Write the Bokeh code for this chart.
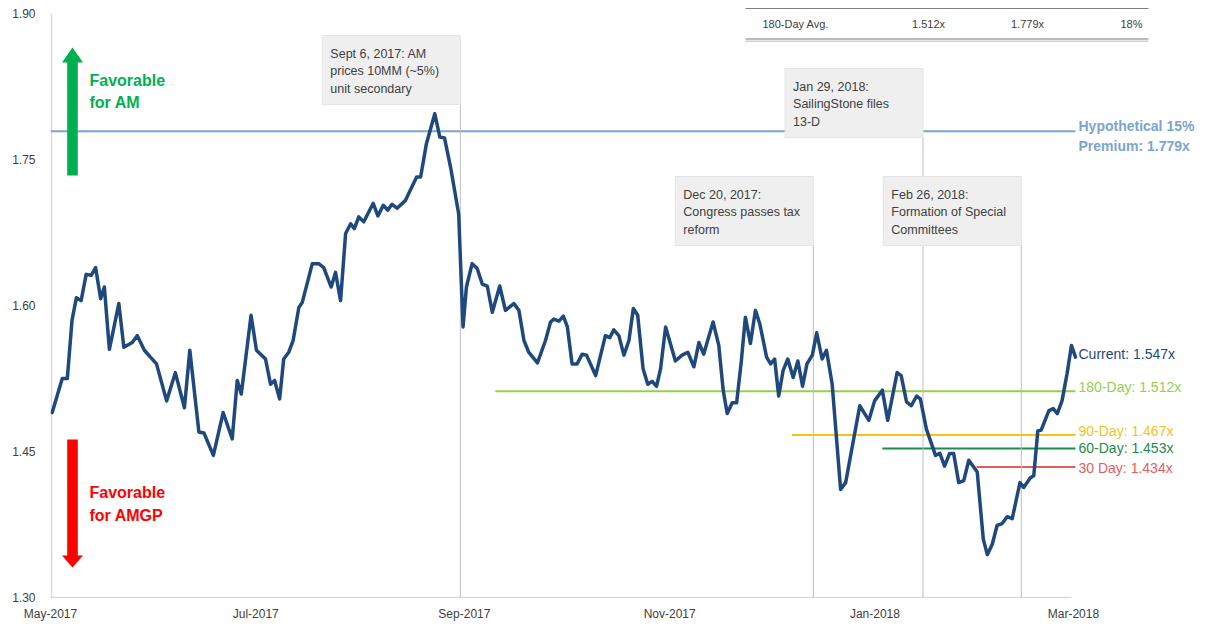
from bokeh.plotting import figure
from bokeh.models import FixedTicker, NumeralTickFormatter, Range1d
from bokeh.core.properties import value
from bokeh.embed import file_html
from bokeh.resources import INLINE

# ---------------- data ----------------
# x: days since 2017-05-01, y: AM / AMGP exchange ratio
day = [0.5, 3.5, 5.0, 6.4, 7.7, 9.1, 10.6, 12.1, 13.4, 14.9, 16.0, 17.5, 20.3, 21.8, 24.3, 25.8, 27.9, 29.7, 31.5, 34.5,
       37.1, 39.8, 41.4, 44.1, 45.6, 48.4, 51.3, 54.0, 55.5, 56.7, 59.6, 61.2, 63.9, 65.4, 66.6, 68.1, 69.3, 70.8, 72.1, 73.8,
       74.8, 77.8, 79.7, 81.2, 83.4, 84.7, 86.2, 87.7, 89.2, 90.3, 91.6, 93.1, 95.9, 97.3, 98.9, 100.2, 101.5, 103.0, 105.5, 108.8,
       110.0, 111.7, 114.2, 115.7, 117.1, 118.9, 121.3, 122.6, 123.6, 125.3, 126.8, 128.3, 129.8, 131.3, 133.5, 135.2, 137.7, 139.2, 140.7, 142.1,
       144.7, 147.1, 148.6, 149.6, 151.1, 152.4, 153.6, 155.0, 156.5, 158.0, 159.3, 162.0, 164.9, 166.2, 167.4, 168.9, 170.4, 171.9, 173.2, 174.5,
       176.1, 177.5, 178.8, 180.1, 181.3, 182.8, 185.7, 187.7, 189.4, 191.2, 192.7, 194.1, 196.9, 198.6, 199.9, 201.1, 202.6, 203.9, 205.3, 206.5,
       208.0, 209.5, 210.8, 212.8, 214.0, 215.2, 216.4, 217.7, 219.1, 220.7, 222.1, 223.5, 224.8, 226.4, 227.7, 229.3, 230.6, 232.3, 234.8, 236.3,
       240.5, 243.2, 244.9, 247.2, 248.8, 251.6, 252.8, 254.4, 255.8, 257.4, 258.5, 260.3, 263.0, 264.3, 265.7, 267.2, 268.4, 269.9, 271.4, 272.9,
       275.4, 277.2, 278.4, 279.9, 281.3, 282.8, 284.3, 285.8, 288.1, 289.2, 291.2, 292.2, 293.4, 294.4, 296.7, 298.0, 299.2, 300.6, 302.1, 303.4,
       304.6]
ratio = [1.490, 1.525, 1.525, 1.585, 1.608, 1.605, 1.632, 1.631, 1.639, 1.607, 1.619, 1.555, 1.602, 1.557, 1.562, 1.569, 1.554, 1.547, 1.540, 1.502,
         1.531, 1.495, 1.554, 1.470, 1.469, 1.446, 1.490, 1.463, 1.523, 1.509, 1.590, 1.554, 1.545, 1.519, 1.523, 1.504, 1.545, 1.552, 1.564, 1.598,
         1.603, 1.643, 1.643, 1.639, 1.619, 1.634, 1.605, 1.674, 1.684, 1.679, 1.691, 1.686, 1.705, 1.692, 1.703, 1.698, 1.704, 1.700, 1.708, 1.732,
         1.732, 1.766, 1.797, 1.773, 1.772, 1.742, 1.694, 1.578, 1.619, 1.643, 1.638, 1.622, 1.620, 1.593, 1.620, 1.595, 1.602, 1.595, 1.564, 1.552,
         1.541, 1.564, 1.583, 1.586, 1.584, 1.589, 1.578, 1.540, 1.540, 1.550, 1.549, 1.528, 1.569, 1.567, 1.575, 1.569, 1.549, 1.564, 1.597, 1.590,
         1.535, 1.519, 1.522, 1.517, 1.535, 1.578, 1.543, 1.549, 1.552, 1.537, 1.562, 1.550, 1.583, 1.559, 1.513, 1.489, 1.500, 1.500, 1.543, 1.588,
         1.561, 1.595, 1.581, 1.547, 1.540, 1.545, 1.507, 1.533, 1.545, 1.526, 1.543, 1.517, 1.540, 1.549, 1.572, 1.545, 1.554, 1.519, 1.411, 1.418,
         1.497, 1.482, 1.502, 1.513, 1.482, 1.531, 1.528, 1.501, 1.497, 1.507, 1.504, 1.473, 1.446, 1.448, 1.435, 1.448, 1.448, 1.418, 1.420, 1.441,
         1.429, 1.360, 1.344, 1.355, 1.374, 1.376, 1.383, 1.381, 1.418, 1.413, 1.423, 1.425, 1.471, 1.472, 1.492, 1.494, 1.489, 1.502, 1.530, 1.559,
         1.547]

tick_days = [0, 61, 123, 184, 245, 304]
tick_labels = ["May-2017", "Jul-2017", "Sep-2017", "Nov-2017", "Jan-2018", "Mar-2018"]
y_ticks = [1.30, 1.45, 1.60, 1.75, 1.90]

current_value = 1.547
premium_value = 1.779
premium_pct = 15

avg_names = ["180-Day", "90-Day", "60-Day", "30 Day"]
avg_values = [1.512, 1.467, 1.453, 1.434]
avg_start_day = [132.2, 220.3, 247.2, 275.2]
avg_colors = ["#92d050", "#f0c419", "#1e8a4c", "#e06060"]

event_day = [121.8, 226.7, 259.3, 288.5]
event_lines = [["Sept 6, 2017: AM", "prices 10MM (~5%)", "unit secondary"],
               ["Dec 20, 2017:", "Congress passes tax", "reform"],
               ["Jan 29, 2018:", "SailingStone files", "13-D"],
               ["Feb 26, 2018:", "Formation of Special", "Committees"]]

# ---------------- layout helpers (pixel -> data) ----------------
W, H = 1208, 629
LEFT, BOTTOM_BORDER = 50, 31
PX_PER_DAY = 3.365
PX_PER_UNIT = 973.3


def X(px):
    return (px - LEFT) / PX_PER_DAY


def Y(py):
    return 1.90 - (py - 13) / PX_PER_UNIT


FONT = value("Liberation Sans")

p = figure(width=W, height=H, output_backend="svg", toolbar_location=None,
           x_range=Range1d(0, X(W)), y_range=Range1d(Y(H - BOTTOM_BORDER), Y(0)),
           min_border_left=LEFT, min_border_right=0, min_border_top=0,
           min_border_bottom=BOTTOM_BORDER)
p.outline_line_color = None
p.xgrid.visible = False
p.ygrid.visible = False
p.background_fill_color = "white"

# axes
p.xaxis.ticker = FixedTicker(ticks=tick_days)
p.xaxis.major_label_overrides = {d: l for d, l in zip(tick_days, tick_labels)}
p.yaxis.ticker = FixedTicker(ticks=y_ticks)
p.yaxis.formatter = NumeralTickFormatter(format="0.00")
for ax in (p.xaxis, p.yaxis):
    ax.axis_line_color = None
    ax.major_tick_line_color = None
    ax.minor_tick_line_color = None
    ax.major_tick_out = 0
    ax.major_tick_in = 0
    ax.major_label_text_font = "Liberation Sans"
    ax.major_label_text_font_size = "12px"
    ax.major_label_text_color = "#404040"
p.xaxis.major_label_standoff = 8
p.yaxis.major_label_standoff = 15

# axis lines
p.segment(x0=[0, X(51)], y0=[1.30, 1.30], x1=[X(1071), X(51)], y1=[1.30, 1.90],
          line_color="#d9d9d9", line_width=1.5)

# reference lines
p.segment(x0=0, y0=premium_value, x1=day[-1], y1=premium_value, line_color="#7ba4cf", line_width=2)
p.segment(x0=avg_start_day, y0=avg_values, x1=[day[-1]] * 4, y1=avg_values,
          line_color=avg_colors, line_width=2)

# event lines and boxes
box_w_px, box_h_px = 138, 69
box_top_px = [35, 176, 68, 176]
box_left = [d - box_w_px / PX_PER_DAY for d in event_day]
box_top = [Y(t) for t in box_top_px]
box_bottom = [Y(t + box_h_px) for t in box_top_px]
p.segment(x0=event_day, y0=[1.30] * 4, x1=event_day, y1=box_bottom, line_color="#bfbfbf", line_width=1)
p.quad(left=box_left, right=event_day, top=box_top, bottom=box_bottom,
       fill_color="#efefef", line_color="#e4e4e4", line_width=1)

tx, ty, tt = [], [], []
for i, lines in enumerate(event_lines):
    for j, s in enumerate(lines):
        tx.append(box_left[i] + 8 / PX_PER_DAY)
        ty.append(Y(box_top_px[i] + 18 + 17.5 * j))
        tt.append(s)
p.text(x=tx, y=ty, text=tt, text_font=FONT, text_font_size=value("12.5px"),
       text_color="#404040", text_baseline="middle", text_align="left")

# main series
p.line(day, ratio, line_color="#1f497d", line_width=3.5, line_join="round", line_cap="round")

# right-side labels
lab_x = X(1078)
p.text(x=[lab_x, lab_x], y=[Y(125), Y(145)],
       text=[f"Hypothetical {premium_pct}%", f"Premium: {premium_value:.3f}x"],
       text_font=FONT, text_font_size=value("14px"), text_font_style="bold",
       text_color="#7ba4cf", text_baseline="middle")
p.text(x=[lab_x], y=[Y(353)], text=[f"Current: {current_value:.3f}x"],
       text_font=FONT, text_font_size=value("14px"), text_color="#1f497d", text_baseline="middle")
avg_label_py = [386, 430, 447.5, 467]
p.text(x=[lab_x] * 4, y=[Y(v) for v in avg_label_py],
       text=[f"{n}: {v:.3f}x" for n, v in zip(avg_names, avg_values)],
       text_font=FONT, text_font_size=value("14px"), text_color=avg_colors, text_baseline="middle")

# favorable arrows
p.quad(left=X(66.7), right=X(77.3), top=Y(61), bottom=Y(175), fill_color="#00b050", line_color=None)
p.patch(x=[X(61.5), X(82.5), X(72)], y=[Y(62), Y(62), Y(47)], fill_color="#00b050", line_color=None)
p.quad(left=X(66.7), right=X(77.3), top=Y(439), bottom=Y(556), fill_color="#ff0000", line_color=None)
p.patch(x=[X(61.5), X(82.5), X(72)], y=[Y(555), Y(555), Y(567)], fill_color="#ff0000", line_color=None)
p.text(x=[X(89)] * 2, y=[Y(80), Y(102)], text=["Favorable", "for AM"], text_font=FONT,
       text_font_size=value("16px"), text_font_style="bold", text_color="#00b050", text_baseline="middle")
p.text(x=[X(89)] * 2, y=[Y(492), Y(515)], text=["Favorable", "for AMGP"], text_font=FONT,
       text_font_size=value("16px"), text_font_style="bold", text_color="#ff0000", text_baseline="middle")

# summary table (top right)
p.segment(x0=X(745), y0=Y(8), x1=X(1148), y1=Y(8), line_color="#7f7f7f", line_width=1)
p.segment(x0=[X(745), X(745)], y0=[Y(38.5), Y(40.7)], x1=[X(1148), X(1148)], y1=[Y(38.5), Y(40.7)],
          line_color=["#a6a6a6", "#cfcfcf"], line_width=1.5)
pct = round((premium_value / avg_values[0] - 1) * 100)
p.text(x=[X(762)], y=[Y(23.5)], text=["180-Day Avg."], text_font=FONT, text_font_size=value("11px"),
       text_color="#404040", text_baseline="middle", text_align="left")
p.text(x=[X(928), X(1027)], y=[Y(23.5)] * 2, text=[f"{avg_values[0]:.3f}x", f"{premium_value:.3f}x"],
       text_font=FONT, text_font_size=value("11px"), text_color="#404040", text_baseline="middle",
       text_align="center")
p.text(x=[X(1142)], y=[Y(23.5)], text=[f"{pct}%"], text_font=FONT, text_font_size=value("11px"),
       text_color="#404040", text_baseline="middle", text_align="right")

open("out.html", "w").write(file_html(p, INLINE))
